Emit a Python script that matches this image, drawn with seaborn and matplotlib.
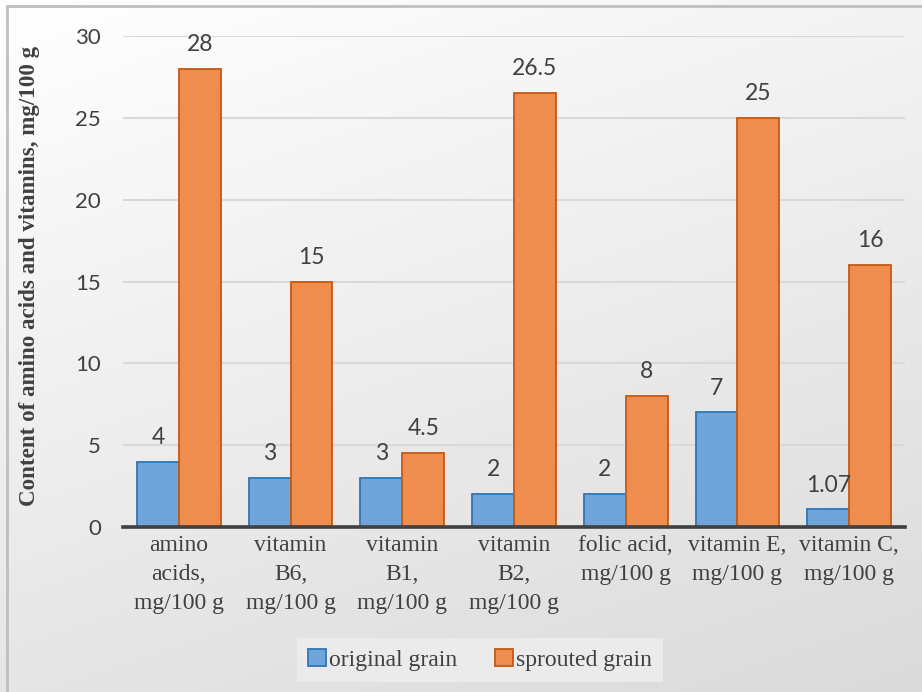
import numpy as np
import pandas as pd
import matplotlib
matplotlib.use("Agg")
import matplotlib.pyplot as plt
from matplotlib.patches import Rectangle, Patch
import seaborn as sns

categories = [
    "amino\nacids,\nmg/100 g",
    "vitamin\nB6,\nmg/100 g",
    "vitamin\nB1,\nmg/100 g",
    "vitamin\nB2,\nmg/100 g",
    "folic acid,\nmg/100 g",
    "vitamin E,\nmg/100 g",
    "vitamin C,\nmg/100 g",
]
original_grain = [4, 3, 3, 2, 2, 7, 1.07]
sprouted_grain = [28, 15, 4.5, 26.5, 8, 25, 16]
series_names = ["original grain", "sprouted grain"]
y_ticks = [0, 5, 10, 15, 20, 25, 30]
y_title = "Content of amino acids and vitamins, mg/100 g"

fills = ["#6FA5D8", "#EE8D4E"]
edges = ["#2E75B6", "#C55A11"]
text_col = "#404040"

df = pd.DataFrame({
    "category": categories * 2,
    "value": original_grain + sprouted_grain,
    "series": [series_names[0]] * len(categories) + [series_names[1]] * len(categories),
})

sns.set_theme(style="white")
W, H = 922, 692
fig = plt.figure(figsize=(W / 100, H / 100), dpi=100)

# soft light-grey gradient behind the whole chart
bg = fig.add_axes([0, 0, 1, 1], zorder=-10)
xx, yy = np.meshgrid(np.linspace(0, 1, 300), np.linspace(0, 1, 300))
shade = 1.0 - 0.045 * xx - 0.10 * yy
bg.imshow(np.dstack([shade] * 3), aspect="auto", extent=[0, 1, 1, 0], interpolation="bicubic")
bg.set_xlim(0, 1)
bg.set_ylim(1, 0)
bg.axis("off")

# chart frame: top and left edges visible, the rest runs past the image
fig.patches.append(Rectangle((7 / W, -1.0), 2.0, 2.0 - 6 / H, fill=False,
                             edgecolor="#BFBFBF", lw=2.0, transform=fig.transFigure))

left, right = 123 / W, 905 / W
bottom, top = 1 - 527 / H, 1 - 36 / H
ax = fig.add_axes([left, bottom, right - left, top - bottom])
ax.patch.set_alpha(0)

sns.barplot(data=df, x="category", y="value", hue="series", palette=fills,
            width=0.75, gap=0, ax=ax, legend=False, saturation=1)

for cont, ec in zip(ax.containers, edges):
    for bar in cont:
        bar.set_edgecolor(ec)
        bar.set_linewidth(1.3)
    ax.bar_label(cont, labels=[f"{v:g}" for v in cont.datavalues], padding=10,
                 fontsize=16.5, color=text_col, family="Lato")

ax.set_ylim(0, 30)
ax.set_xlim(-0.5, len(categories) - 0.5)
ax.set_yticks(y_ticks)
ax.set_yticklabels([str(t) for t in y_ticks], family="Lato", fontsize=16, color=text_col)
ax.tick_params(axis="y", length=0, pad=16)
ax.tick_params(axis="x", length=0, pad=6)
for lbl in ax.get_xticklabels():
    lbl.set_family("Liberation Serif")
    lbl.set_fontsize(17)
    lbl.set_color(text_col)
    lbl.set_linespacing(1.5)
ax.set_xlabel("")
ax.set_ylabel("")
ax.yaxis.grid(True, color="#D9D9D9", lw=1.5)
ax.set_axisbelow(True)
for s in ["left", "right", "top"]:
    ax.spines[s].set_visible(False)
ax.spines["bottom"].set_color("#404040")
ax.spines["bottom"].set_linewidth(2.6)
ax.spines["bottom"].set_zorder(5)

fig.text(30 / W, 1 - 276 / H, y_title, rotation=90, ha="center", va="center",
         family="Liberation Serif", fontweight="bold", fontsize=16.6, color=text_col)

handles = [Patch(facecolor=f, edgecolor=e, lw=1.3) for f, e in zip(fills, edges)]
leg = fig.legend(handles, series_names, loc="center", bbox_to_anchor=(480 / W, 1 - 660 / H),
                 ncol=2, frameon=True, fancybox=False, framealpha=1,
                 prop={"family": "Liberation Serif", "size": 17},
                 handlelength=0.75, handleheight=0.75, handletextpad=0.15,
                 columnspacing=1.6, borderpad=0.45)
leg.get_frame().set_facecolor("#EBEBEB")
leg.get_frame().set_edgecolor("none")
for t in leg.get_texts():
    t.set_color(text_col)

fig.savefig("out.png", dpi=100)
